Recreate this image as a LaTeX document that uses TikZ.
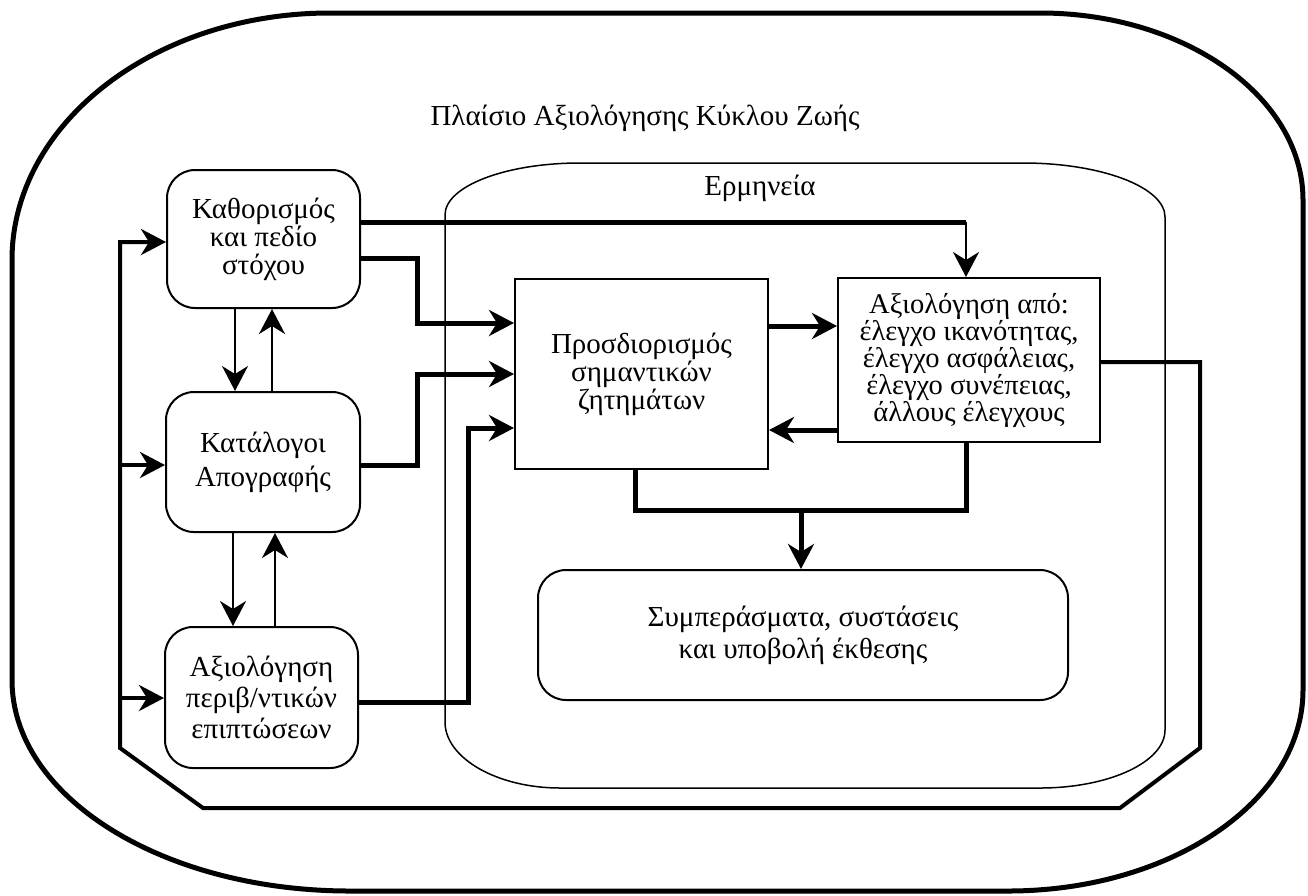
\documentclass[tikz,border=0pt]{standalone}
\usepackage{fontspec}
\setmainfont{Liberation Serif}
\usetikzlibrary{arrows.meta}
\newcommand\myfs{\fontsize{29}{28}\selectfont}
\begin{document}
\begin{tikzpicture}[x=1pt,y=-1pt,
  rbox/.style={draw, line width=2pt, rounded corners=28pt, align=center, font=\myfs, inner sep=0pt},
  sbox/.style={draw, line width=2pt, align=center, font=\myfs, inner sep=0pt},
  thk/.style={line width=5pt},
  lp/.style={line width=4pt},
  thn/.style={line width=2pt},
  arr/.style={-{Stealth[length=25pt,width=26pt,inset=8pt]}},
  lbl/.style={font=\myfs, inner sep=0pt}]
\useasboundingbox (0,0) rectangle (1308,895);
% outer frame
\draw[line width=5pt] (330,13) -- (1040,13)
  .. controls (1185,13) and (1303,97) .. (1303,200) -- (1303,690)
  .. controls (1303,801) and (1171,891) .. (1008,891) -- (350,891)
  .. controls (163,891) and (12,797) .. (12,680) -- (12,260)
  .. controls (12,124) and (154,13) .. (330,13) -- cycle;
\node[lbl] (title) at (645,118) {Πλαίσιο Αξιολόγησης Κύκλου Ζωής};
% interpretation region
\draw[line width=1.5pt] (580,163) -- (1023,163)
  .. controls (1101,163) and (1165,187) .. (1165,217) -- (1165,730)
  .. controls (1165,762) and (1109,788) .. (1040,788) -- (560,788)
  .. controls (497,788) and (445,758) .. (445,722) -- (445,215)
  .. controls (445,186) and (506,163) .. (580,163) -- cycle;
\node[lbl] (erm) at (760,188) {Ερμηνεία};
% boxes
\node[rbox, minimum width=193pt, minimum height=138pt] (kath) at (263.5,239) {Καθορισμός\\και πεδίο\\στόχου};
\node[rbox, minimum width=194pt, minimum height=140pt] (kat) at (263,462) {Κατάλογοι\\[6pt]Απογραφής};
\node[rbox, minimum width=193pt, minimum height=141pt] (axp) at (261.5,697.5) {Αξιολόγηση\\[3pt]περιβ/ντικών\\[3pt]επιπτώσεων};
\node[sbox, minimum width=253pt, minimum height=190pt] (prosd) at (641.5,374) {Προσδιορισμός\\σημαντικών\\ζητημάτων};
\node[sbox, minimum width=262pt, minimum height=164pt, font=\fontsize{28.5}{27}\selectfont] (axap) at (969,360) {Αξιολόγηση από:\\έλεγχο ικανότητας,\\έλεγχο ασφάλειας,\\έλεγχο συνέπειας,\\άλλους έλεγχους};
\node[rbox, minimum width=530pt, minimum height=130pt] (symp) at (803,635) {Συμπεράσματα, συστάσεις\\[4pt]και υποβολή έκθεσης};
% connectors from the left boxes
\coordinate (c1) at (966,222);
\draw[thk] (kath.east |- c1) -- (c1);
\draw[thn,arr] (c1) -- (axap.north -| c1);
\draw[thk,arr] (kath.east |- 0,258) -| (417,323) -- (prosd.west |- 0,323);
\draw[thk,arr] (kat.east |- 0,465) -| (417,374) -- (prosd.west |- 0,374);
\draw[thk,arr] (axp.east |- 0,702) -| (468,428) -- (prosd.west |- 0,428);
% between the two central boxes
\draw[thk,arr] (prosd.east |- 0,326) -- (axap.west |- 0,326);
\draw[thk,arr] (axap.west |- 0,430) -- (prosd.east |- 0,430);
% bracket to conclusions
\coordinate (c2) at (801,510);
\draw[thk] (prosd.south -| 635,0) |- (966,510) -- (axap.south -| 966,0);
\draw[thk,arr] (c2) -- (symp.north -| c2);
% feedback loop
\draw[lp,arr] (axap.east |- 0,362) -- (1200,362) -- (1200,748) -- (1120,808) -- (203,808) -- (120,748) -- (120,242) -- (kath.west |- 0,242);
\draw[lp,arr] (120,465) -- (kat.west |- 0,465);
\draw[lp,arr] (120,698) -- (axp.west |- 0,698);
% thin arrows between left boxes
\draw[thn,arr] (kath.south -| 235,0) -- (kat.north -| 235,0);
\draw[thn,arr] (kat.north -| 272,0) -- (kath.south -| 272,0);
\draw[thn,arr] (kat.south -| 233,0) -- (axp.north -| 233,0);
\draw[thn,arr] (axp.north -| 275,0) -- (kat.south -| 275,0);
\end{tikzpicture}
\end{document}
